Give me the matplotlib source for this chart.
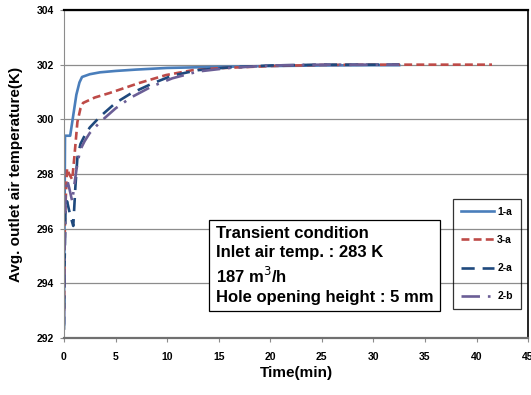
import matplotlib.pyplot as plt

plt.rcParams['font.family'] = ['Liberation Sans', 'DejaVu Sans']

# Avg. outlet air temperature (K) over time (min) for each case
t_1a = [0, 0.05, 0.1, 0.3, 0.6, 0.8, 1.2, 1.5, 1.75, 2.5, 3.5, 5, 7, 10, 15, 20, 25, 30, 32.5]
T_1a = [292.5, 296.0, 299.4, 299.4, 299.4, 299.9, 300.9, 301.35, 301.55, 301.65, 301.72,
        301.77, 301.82, 301.88, 301.92, 301.95, 301.97, 301.98, 301.98]

t_3a = [0, 0.1, 0.3, 0.5, 0.8, 1.0, 1.3, 1.6, 1.85, 3, 4.4, 5.5, 7.3, 9.9, 12.5, 15, 20, 25, 30, 35, 41.5]
T_3a = [293.0, 296.5, 298.2, 298.0, 297.8, 298.6, 299.9, 300.4, 300.6, 300.8, 300.96, 301.1,
        301.33, 301.62, 301.8, 301.87, 301.95, 301.99, 302.0, 302.0, 302.0]

t_2a = [0, 0.05, 0.15, 0.3, 0.6, 0.9, 1.1, 1.3, 1.6, 2.0, 2.5, 3.5, 5, 6.5, 8.5, 10.5, 13, 16, 20, 25, 30, 32.5]
T_2a = [292.3, 294.5, 296.8, 297.0, 296.5, 296.1, 297.5, 298.6, 299.1, 299.4, 299.7, 300.1,
        300.6, 300.95, 301.3, 301.6, 301.8, 301.9, 301.97, 302.0, 302.0, 302.0]

t_2b = [0, 0.05, 0.15, 0.3, 0.5, 0.8, 1.0, 1.3, 1.6, 2.0, 2.5, 3.5, 5, 6.5, 8.5, 10.5, 13, 16, 20, 25, 30, 32.5]
T_2b = [292.5, 295.0, 297.2, 297.8, 297.5, 297.0, 297.6, 298.4, 298.9, 299.2, 299.5, 299.9,
        300.4, 300.8, 301.2, 301.5, 301.75, 301.88, 301.97, 302.0, 302.0, 302.0]

y_ticks = [292, 294, 296, 298, 300, 302, 304]
x_ticks = [0, 5, 10, 15, 20, 25, 30, 35, 40, 45]

fig = plt.figure(figsize=(5.31, 3.95), dpi=100)
ax = fig.add_axes([0.1205, 0.1443, 0.874, 0.8304])

ax.plot(t_1a, T_1a, color='#4A7EBB', lw=1.9, label='1-a')
ax.plot(t_3a, T_3a, color='#BE4B48', lw=1.9, dashes=(3, 1.6), label='3-a')
ax.plot(t_2a, T_2a, color='#1F497D', lw=1.9, dashes=(5, 3), label='2-a')
ax.plot(t_2b, T_2b, color='#6B5E96', lw=1.9, dashes=(7, 3, 1, 3), label='2-b')

ax.set_xlim(0, 45)
ax.set_ylim(292, 304)
ax.set_xticks(x_ticks)
ax.set_yticks(y_ticks)
ax.yaxis.grid(True, color='#8c8c8c', lw=0.9)
ax.set_axisbelow(True)
for lbl in ax.get_xticklabels() + ax.get_yticklabels():
    lbl.set_fontweight('bold')
ax.tick_params(labelsize=7.5, length=3, color='#8c8c8c', pad=7)
ax.tick_params(axis='y', pad=4)

ax.spines['left'].set_color('#8c8c8c')
ax.spines['bottom'].set_color('#707070')
ax.spines['bottom'].set_linewidth(1.6)
ax.spines['top'].set_linewidth(1.6)
ax.spines['right'].set_linewidth(1.2)

ax.set_xlabel('Time(min)', fontsize=11, fontweight='bold', labelpad=3)
ax.set_ylabel('Avg. outlet air temperature(K)', fontsize=11, fontweight='bold', labelpad=10)

ax.text(0.327, 0.34,
        'Transient condition\nInlet air temp. : 283 K\n187 m$^3$/h\nHole opening height : 5 mm',
        transform=ax.transAxes, fontsize=12, fontweight='bold', va='top', ha='left',
        linespacing=1.32,
        bbox=dict(boxstyle='square,pad=0.4', facecolor='white', edgecolor='black', lw=0.9))

leg = ax.legend(loc='upper right', bbox_to_anchor=(0.995, 0.44),
                prop={'weight': 'bold', 'size': 7.5}, handlelength=3.2, handletextpad=0.3,
                labelspacing=1.75, borderpad=0.75, fancybox=False, facecolor='none',
                edgecolor='black', framealpha=None)
leg.get_frame().set_linewidth(0.9)

fig.savefig('out.png', dpi=100)
